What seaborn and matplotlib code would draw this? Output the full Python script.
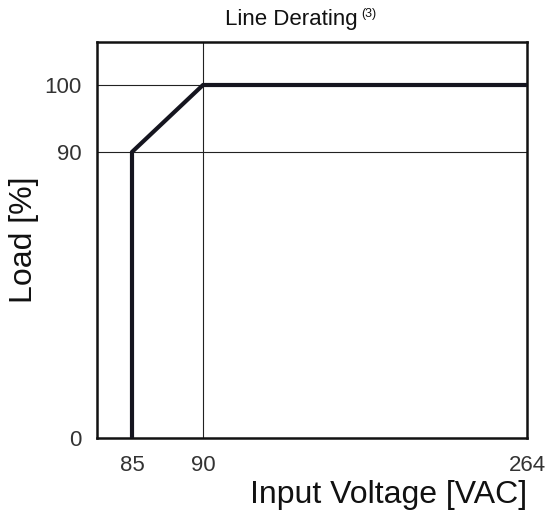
import numpy as np
import pandas as pd
import matplotlib
matplotlib.use("Agg")
import matplotlib.pyplot as plt
import seaborn as sns

# -------------------------------
# Data
# -------------------------------
voltage = [85, 85, 90, 264]
load = [0, 90, 100, 100]
x_ticks = [85, 90, 264]
y_ticks = [0, 90, 100]
x_grid = [90]
y_grid = [90, 100]

df = pd.DataFrame({"voltage": voltage, "load": load})

sns.set_style("white")
plt.rcParams["font.family"] = ["Liberation Sans", "DejaVu Sans"]

# piecewise scales (the chart is not drawn to linear scale)
x_vals = [82.5, 85, 90, 264]
x_pix = [0, 35, 106, 430]
y_vals = [0, 90, 100, 106.4]
y_pix = [0, 286, 353, 396]


def fx(v):
    return np.interp(v, x_vals, x_pix)


def ix(p):
    return np.interp(p, x_pix, x_vals)


def fy(v):
    return np.interp(v, y_vals, y_pix)


def iy(p):
    return np.interp(p, y_pix, y_vals)


fig = plt.figure(figsize=(5.57, 5.17), dpi=100)
ax = fig.add_axes([97 / 557, 1 - 438 / 517, 430 / 557, 396 / 517])
ax.set_xscale("function", functions=(fx, ix))
ax.set_yscale("function", functions=(fy, iy))

for g in x_grid:
    ax.axvline(g, color="#222222", lw=0.8, zorder=1)
for g in y_grid:
    ax.axhline(g, color="#222222", lw=0.8, zorder=1)

sns.lineplot(data=df, x="voltage", y="load", sort=False, estimator=None,
             color="#15151f", lw=3, ax=ax, zorder=3)

ax.set_xlim(82.5, 264)
ax.set_ylim(0, 106.4)
ax.set_xticks(x_ticks)
ax.set_xticklabels([str(t) for t in x_ticks])
ax.set_yticks(y_ticks)
ax.set_yticklabels([str(t) for t in y_ticks])
ax.tick_params(axis="x", length=0, labelsize=16, colors="#333333", pad=12)
ax.tick_params(axis="y", length=0, labelsize=16, colors="#333333", pad=11)

for s in ax.spines.values():
    s.set_color("#111111")
    s.set_linewidth(1.8)

ax.set_xlabel("Input Voltage [VAC]", fontsize=23, loc="right", labelpad=3,
              color="#111111")
ax.set_ylabel("Load [%]", fontsize=23, labelpad=4, color="#111111")

t = fig.text(291 / 557, 1 - 19 / 517, "Line Derating", fontsize=16,
             ha="center", va="center", color="#111111")
ax.annotate("(3)", xy=(1, 0.75), xycoords=t, xytext=(3, 0),
            textcoords="offset points", fontsize=9, va="center",
            color="#111111")

plt.savefig("out.png", dpi=100)
